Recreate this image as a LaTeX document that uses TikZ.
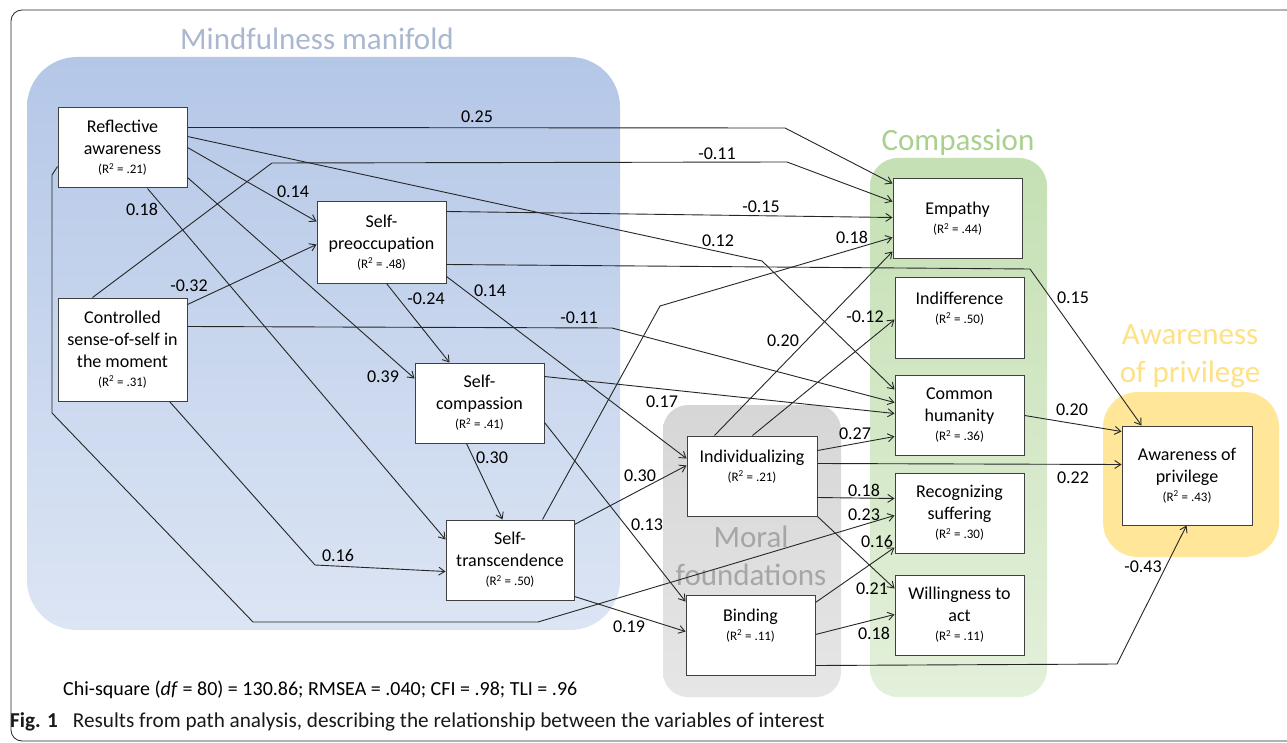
\documentclass[tikz,border=0pt]{standalone}
\usepackage{fontspec}
\setmainfont{Carlito}
\usetikzlibrary{arrows.meta,calc}
\definecolor{blueTop}{HTML}{B4C7E7}
\definecolor{blueBot}{HTML}{DCE5F4}
\definecolor{blueTitle}{HTML}{A9B8D0}
\definecolor{greenTop}{HTML}{C5E0B4}
\definecolor{greenBot}{HTML}{E3F0DA}
\definecolor{greenTitle}{HTML}{A9D18E}
\definecolor{grayTop}{HTML}{D6D6D6}
\definecolor{grayBot}{HTML}{E6E6E6}
\definecolor{grayTitle}{HTML}{A6A6A6}
\definecolor{yellowFill}{HTML}{FFE699}
\definecolor{yellowTitle}{HTML}{FFE185}
\definecolor{boxc}{HTML}{404040}
\definecolor{linec}{HTML}{262626}
\newcommand\rsq[1]{{\fontsize{13}{15}\selectfont(R\textsuperscript{2} = #1)}}
\tikzset{
  box/.style={draw=boxc, fill=white, line width=1pt, align=center, inner sep=0pt,
    minimum width=129pt, minimum height=80pt, font=\fontsize{18}{22}\selectfont},
  lab/.style={font=\fontsize{18}{22}\selectfont, inner sep=0pt, text=black},
  conn/.style={draw=linec, line width=0.9pt, -{Straight Barb[length=6pt,width=8pt]}},
  grouptitle/.style={font=\fontsize{31}{38.5}\selectfont, inner sep=0pt, align=center},
}
\begin{document}
\begin{tikzpicture}[x=1pt,y=-1pt]
\useasboundingbox (0,0) rectangle (1287,743);
\fill[white] (0,0) rectangle (1287,743);
% outer frame
\draw[line width=0.8pt, draw=black!85, rounded corners=11pt] (11,10) rectangle (1320,741);
% group backgrounds
\path[top color=blueTop, bottom color=blueBot, rounded corners=50pt] (27,57) rectangle (620,630);
\path[top color=greenTop, bottom color=greenBot, rounded corners=28pt] (870,158) rectangle (1047,697);
\path[top color=grayTop, bottom color=grayBot, rounded corners=25pt] (663,405) rectangle (841,697);
\path[fill=yellowFill, rounded corners=35pt] (1103,392) rectangle (1279,557);
% group titles
\node[grouptitle, text=blueTitle, anchor=base] (tmind) at (317,50) {Mindfulness manifold};
\node[grouptitle, text=greenTitle, anchor=base] (tcomp) at (958,151) {Compassion};
\node[grouptitle, text=grayTitle] (tmoral) at (751,556) {Moral\\foundations};
\node[grouptitle, text=yellowTitle] (taware) at (1190,356) {Awareness\\of privilege};
% boxes
\node[box] (refl) at (122.5,148) {Reflective\\awareness\\[-3pt]\rsq{.21}};
\node[box, minimum height=103pt] (ctrl) at (122.5,349.5) {Controlled\\sense-of-self in\\the moment\\[-3pt]\rsq{.31}};
\node[box, minimum height=81pt] (preoc) at (381.5,242.5) {Self-\\preoccupation\\[-3pt]\rsq{.48}};
\node[box] (scomp) at (479.5,403) {Self-\\compassion\\[-3pt]\rsq{.41}};
\node[box, minimum width=128pt] (strans) at (510,560) {Self-\\transcendence\\[-3pt]\rsq{.50}};
\node[box, minimum width=130pt] (indiv) at (752,476) {Individualizing\\[-3pt]\rsq{.21}\\[-3pt]\phantom{\rsq{.21}}};
\node[box] (bind) at (750.5,635) {Binding\\[-3pt]\rsq{.11}\\[-3pt]\phantom{\rsq{.11}}};
\node[box] (emp) at (957.5,219) {Empathy\\[-3pt]\rsq{.44}};
\node[box] (indif) at (959.5,318) {Indifference\\[-3pt]\rsq{.50}\\[-3pt]\phantom{\rsq{.50}}};
\node[box] (comm) at (959.5,415) {Common\\humanity\\[-3pt]\rsq{.36}};
\node[box] (recog) at (959.5,513) {Recognizing\\suffering\\[-3pt]\rsq{.30}};
\node[box] (will) at (959.5,615) {Willingness to\\act\\[-3pt]\rsq{.11}};
\node[box, minimum width=130pt, minimum height=99pt] (aware) at (1187,475.5) {Awareness of\\privilege\\[-3pt]\rsq{.43}};
% connectors
\draw[conn] ($(refl.north east)+(0,20)$) -- (785,128) -- ($(emp.north west)+(0,5)$);
\draw[conn] ($(ctrl.north west)+(35,0)$) -- (272,163) -- (787,162) -- ($(emp.north west)+(0,23)$);
\draw[conn] ($(preoc.north east)+(0,10)$) -- ($(emp.north west)+(0,39)$);
\draw[conn] ($(strans.north west)+(97,0)$) -- (660,306) -- ($(emp.north west)+(0,59)$);
\draw[conn] ($(indiv.north west)+(28,0)$) -- ($(emp.north west)+(0,73)$);
\draw[conn] ($(refl.north east)+(0,29)$) -- (762,261) -- ($(comm.north west)+(0,15)$);
\draw[conn] ($(refl.north east)+(0,40)$) -- ($(preoc.north west)+(0,20)$);
\draw[conn] ($(refl.north east)+(0,70)$) -- ($(scomp.north west)+(0,16)$);
\draw[conn] ($(refl.south west)+(90,0)$) -- ($(strans.north west)+(0,20)$);
\draw[conn] ($(refl.north west)+(0,59)$) -- (52,175) -- (52,413) -- (253,622) -- (538,622) -- ($(recog.north west)+(0,43)$);
\draw[conn] ($(ctrl.north east)+(0,7)$) -- ($(preoc.north west)+(0,43)$);
\draw[conn] ($(ctrl.north east)+(0,29)$) -- (612,328) -- ($(comm.north west)+(0,28)$);
\draw[conn] ($(ctrl.south west)+(112,0)$) -- (315,565) -- ($(strans.north west)+(0,52)$);
\draw[conn] ($(preoc.south west)+(70,0)$) -- ($(scomp.north west)+(35,0)$);
\draw[conn] ($(preoc.north east)+(0,75)$) -- ($(indiv.north west)+(0,23)$);
\draw[conn] ($(preoc.north east)+(0,63)$) -- (1030,269) -- ($(aware.north west)+(20,0)$);
\draw[conn] ($(scomp.north east)+(0,14)$) -- ($(comm.north west)+(0,39)$);
\draw[conn] ($(scomp.south west)+(52,0)$) -- ($(strans.north west)+(57,0)$);
\draw[conn] ($(scomp.north east)+(0,60)$) -- ($(bind.north west)+(0,7)$);
\draw[conn] ($(strans.north east)+(0,5)$) -- ($(indiv.north west)+(0,30)$);
\draw[conn] ($(strans.north east)+(0,77)$) -- ($(bind.north west)+(0,37)$);
\draw[conn] ($(indiv.north west)+(66,0)$) -- ($(indif.north west)+(0,42)$);
\draw[conn] ($(indiv.north east)+(0,15)$) -- ($(comm.north west)+(0,62)$);
\draw[conn] ($(indiv.north east)+(0,28)$) -- ($(aware.north west)+(0,39)$);
\draw[conn] ($(indiv.north east)+(0,62)$) -- ($(recog.north west)+(0,26)$);
\draw[conn] (indiv.south east) -- ($(will.north west)+(0,14)$);
\draw[conn] ($(bind.north east)+(0,8)$) -- ($(recog.north west)+(0,75)$);
\draw[conn] ($(bind.north east)+(0,40)$) -- ($(will.north west)+(0,40)$);
\draw[conn] ($(bind.north east)+(0,71)$) -- (1117,664) -- ($(aware.south west)+(65,0)$);
\draw[conn] ($(comm.north east)+(0,41)$) -- ($(aware.north west)+(0,6)$);
% connector labels
\node[lab] (l1) at (477,117) {0.25};
\node[lab] (l2) at (717,154) {-0.11};
\node[lab] (l3) at (293,192) {0.14};
\node[lab] (l4) at (142,209) {0.18};
\node[lab] (l5) at (718,241) {0.12};
\node[lab] (l6) at (761,207) {-0.15};
\node[lab] (l7) at (189,286) {-0.32};
\node[lab] (l8) at (852,237) {0.18};
\node[lab] (l9) at (490,291) {0.14};
\node[lab] (l10) at (426,299) {-0.24};
\node[lab] (l11) at (1073,298) {0.15};
\node[lab] (l12) at (579,318) {-0.11};
\node[lab] (l13) at (783,341) {0.20};
\node[lab] (l14) at (865,317) {-0.12};
\node[lab] (l15) at (383,377) {0.39};
\node[lab] (l16) at (662,402) {0.17};
\node[lab] (l17) at (855,434) {0.27};
\node[lab] (l18) at (1072,410) {0.20};
\node[lab] (l19) at (492,458) {0.30};
\node[lab] (l20) at (640,476) {0.30};
\node[lab] (l21) at (1073,478) {0.22};
\node[lab] (l22) at (864,490) {0.18};
\node[lab] (l23) at (864,515) {0.23};
\node[lab] (l24) at (647,525) {0.13};
\node[lab] (l25) at (338,555) {0.16};
\node[lab] (l26) at (877,541) {0.16};
\node[lab] (l27) at (872,589) {0.21};
\node[lab] (l28) at (629,627) {0.19};
\node[lab] (l29) at (874,633) {0.18};
\node[lab] (l30) at (1143,567) {-0.43};
% fit statistics and caption
\node[anchor=west, inner sep=0pt, font=\fontsize{20}{24}\selectfont] (fit) at (63,690) {Chi-square (\textit{df} = 80) = 130.86; RMSEA = .040; CFI = .98; TLI = .96};
\node[anchor=west, inner sep=0pt, font=\fontsize{21.2}{25}\selectfont, text=black!90] (cap) at (10,722) {\textbf{Fig. 1}\hspace{15pt}Results from path analysis, describing the relationship between the variables of interest};
\end{tikzpicture}
\end{document}
